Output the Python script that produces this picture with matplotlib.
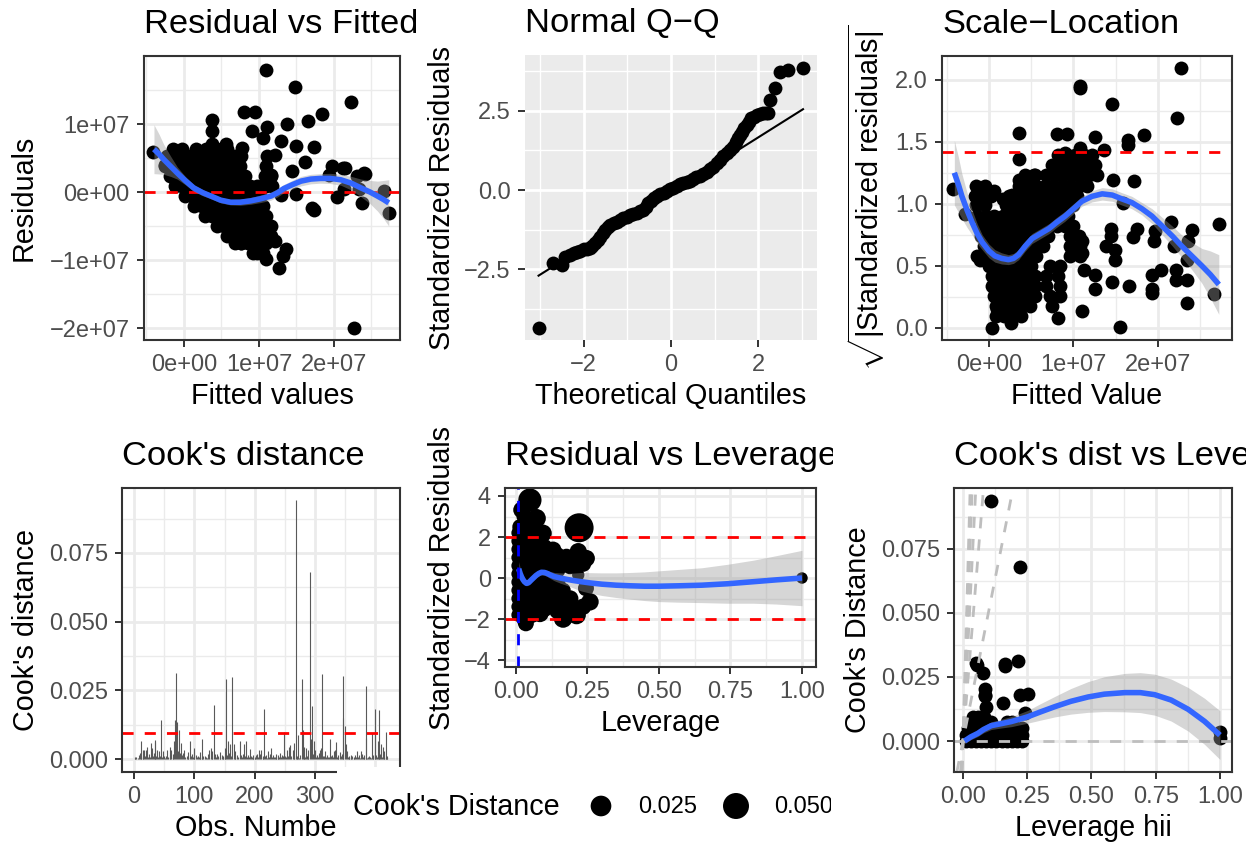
import numpy as np
import matplotlib
matplotlib.use("Agg")
import matplotlib.pyplot as plt
from matplotlib.ticker import FixedLocator, FixedFormatter, AutoMinorLocator
from matplotlib.transforms import Bbox

plt.rcParams['font.family'] = ['Liberation Sans', 'DejaVu Sans']
plt.rcParams['mathtext.fontset'] = 'custom'
plt.rcParams['mathtext.rm'] = 'Liberation Sans'
plt.rcParams['mathtext.it'] = 'Liberation Sans:italic'
plt.rcParams['mathtext.bf'] = 'Liberation Sans:bold'

# ---------------- DATA ----------------
# Panel 1: Residual vs Fitted (units of 1e7)
rvf_pts = [
    (1.09, 1.80), (1.48, 1.55), (2.23, 1.32), (1.84, 1.14), (1.65, 1.04), (1.37, 1.00), (0.80, 1.17),
    (0.95, 1.18), (0.38, 1.06), (0.38, 0.90), (0.91, 0.90), (1.11, 0.95), (1.05, 0.80), (1.49, 0.67),
    (1.74, 0.66), (1.62, 0.44), (1.29, 0.75), (1.22, 0.55), (1.11, 0.53), (0.78, 0.65), (0.56, 0.70),
    (0.38, 0.70), (-0.41, 0.59), (1.98, 0.38), (2.15, 0.36), (2.40, 0.28), (2.31, 0.24), (1.93, 0.25),
    (1.44, 0.31), (1.16, 0.25), (2.67, 0.01), (2.73, -0.31), (2.38, -0.16), (2.04, -0.08), (1.73, -0.26),
    (1.71, -0.24), (1.49, -0.03), (1.29, -0.05), (2.33, 0.04), (2.13, 0.04), (2.27, -2.00), (1.27, -1.11),
    (1.36, -0.84), (1.32, -0.94), (1.22, -0.72), (1.09, -0.99), (0.98, -0.89), (1.16, -0.50), (0.76, -0.75),
    (1.02, -0.66), (-0.25, 0.40), (-0.10, 0.15), (1.10, 0.15), (2.12, 0.35), (2.41, 0.27),
    (-0.15, 0.63), (-0.02, 0.63), (0.16, 0.63), (0.30, 0.63), (0.50, 0.63), (0.58, 0.63),
    (-0.22, 0.53), (-0.12, 0.53), (-0.02, 0.53), (0.08, 0.53), (0.18, 0.53), (0.28, 0.53), (0.38, 0.53),
    (0.48, 0.53), (0.58, 0.53), (0.68, 0.53), (0.76, 0.53),
    (-0.25, 0.38), (-0.15, 0.38), (-0.05, 0.38), (0.05, 0.38), (0.15, 0.38), (0.25, 0.38), (0.35, 0.38),
    (0.45, 0.38), (0.55, 0.38), (0.65, 0.38), (0.75, 0.38), (1.10, 0.38),
    (-0.18, 0.24), (-0.08, 0.24), (0.02, 0.24), (0.12, 0.24), (0.22, 0.24), (0.32, 0.24), (0.42, 0.24),
    (0.52, 0.24), (0.62, 0.24), (0.72, 0.24), (0.82, 0.24), (1.08, 0.24), (1.16, 0.24),
    (-0.12, 0.09), (-0.02, 0.09), (0.08, 0.09), (0.18, 0.09), (0.28, 0.09), (0.38, 0.09), (0.48, 0.09),
    (0.58, 0.09), (0.68, 0.09), (0.78, 0.09), (0.88, 0.09), (0.98, 0.09), (1.10, 0.09), (1.18, 0.09),
    (0.02, -0.06), (0.12, -0.06), (0.22, -0.06), (0.32, -0.06), (0.42, -0.06), (0.52, -0.06),
    (0.62, -0.06), (0.72, -0.06), (0.82, -0.06), (0.92, -0.06), (1.02, -0.06),
    (0.14, -0.21), (0.24, -0.21), (0.34, -0.21), (0.44, -0.21), (0.54, -0.21), (0.64, -0.21),
    (0.74, -0.21), (0.84, -0.21), (0.94, -0.21), (1.05, -0.21),
    (0.28, -0.35), (0.38, -0.35), (0.48, -0.35), (0.58, -0.35), (0.68, -0.35), (0.78, -0.35),
    (0.88, -0.35), (0.98, -0.35), (1.10, -0.35),
    (0.44, -0.50), (0.54, -0.50), (0.64, -0.50), (0.74, -0.50), (0.84, -0.50), (0.94, -0.50),
    (1.04, -0.50), (1.14, -0.50),
    (0.58, -0.65), (0.68, -0.65), (0.78, -0.65), (0.88, -0.65), (0.98, -0.65), (1.08, -0.65), (1.16, -0.65),
    (0.68, -0.75), (0.76, -0.75), (0.86, -0.75), (1.00, -0.75), (1.10, -0.75),
    (0.92, -0.89), (1.05, -0.89),
]
rvf_smooth_x = [-0.40, -0.33, -0.27, -0.18, -0.09, 0.02, 0.13, 0.25, 0.36, 0.49, 0.62, 0.75, 0.89, 1.02,
                1.16, 1.25, 1.33, 1.45, 1.56, 1.69, 1.82, 1.95, 2.09, 2.23, 2.36, 2.48, 2.58, 2.66, 2.73]
rvf_smooth_y = [0.63, 0.555, 0.48, 0.38, 0.28, 0.165, 0.06, -0.01, -0.06, -0.12, -0.15, -0.15, -0.13, -0.10,
                -0.06, -0.01, 0.05, 0.11, 0.16, 0.19, 0.20, 0.20, 0.18, 0.13, 0.06, 0.00, -0.06, -0.11, -0.16]
rvf_smooth_se = [0.36, 0.29, 0.22, 0.15, 0.09, 0.06, 0.05, 0.045, 0.04, 0.04, 0.04, 0.045, 0.05, 0.055,
                 0.06, 0.06, 0.06, 0.065, 0.07, 0.07, 0.07, 0.075, 0.08, 0.10, 0.13, 0.17, 0.22, 0.28, 0.34]

# Panel 2: Normal Q-Q
qq_pts = [
    (-3.03, -4.34), (-2.69, -2.31), (-2.50, -2.37), (-2.42, -2.10), (-2.31, -2.05), (-2.23, -2.00),
    (-2.16, -1.95), (-2.08, -1.91), (-2.00, -1.87), (-1.92, -1.86), (-1.85, -1.84), (-1.80, -1.76),
    (-1.74, -1.68), (-1.68, -1.58), (-1.62, -1.47), (-1.56, -1.36), (-1.51, -1.26), (-1.45, -1.18),
    (-1.39, -1.10), (-1.31, -1.05), (-1.24, -1.00), (-1.16, -0.94), (-1.09, -0.89), (-1.01, -0.84),
    (-0.94, -0.79), (-0.86, -0.75), (-0.78, -0.71), (-0.70, -0.67), (-0.63, -0.63), (-0.57, -0.52),
    (-0.52, -0.42), (-0.46, -0.34), (-0.40, -0.26), (-0.32, -0.20), (-0.25, -0.14), (-0.17, -0.08),
    (-0.10, -0.03), (-0.02, 0.02), (0.05, 0.07), (0.13, 0.13), (0.21, 0.18), (0.28, 0.22), (0.36, 0.26),
    (0.43, 0.30), (0.51, 0.35), (0.58, 0.40), (0.66, 0.45), (0.74, 0.51), (0.82, 0.58), (0.90, 0.66),
    (0.97, 0.74), (1.05, 0.84), (1.12, 0.95), (1.20, 1.06), (1.27, 1.16), (1.35, 1.27), (1.42, 1.37),
    (1.48, 1.50), (1.54, 1.63), (1.58, 1.74), (1.62, 1.84), (1.67, 1.95), (1.73, 2.05), (1.78, 2.16),
    (1.84, 2.26), (1.90, 2.32), (1.96, 2.37), (2.03, 2.41), (2.11, 2.44), (2.17, 2.44), (2.22, 2.44),
    (2.26, 2.84), (2.38, 3.21), (2.49, 3.73), (2.68, 3.79), (3.02, 3.84),
]
qq_line_x = [-3.03, 3.02]
qq_line_y = [-2.70, 2.55]

# Panel 3: Scale-Location (x in units of 1e7)
sl_pts = [
    (2.27, 2.09), (1.08, 1.95), (1.08, 1.93), (1.46, 1.80), (2.22, 1.69), (0.36, 1.57), (0.80, 1.56),
    (0.92, 1.56), (1.26, 1.54), (1.64, 1.51), (1.64, 1.47), (1.84, 1.55), (1.36, 1.43), (1.08, 1.45),
    (0.90, 1.41), (0.36, 1.36), (-0.43, 1.12), (1.47, 1.19), (1.72, 1.18), (2.72, 0.84), (2.40, 0.79),
    (2.15, 0.85), (1.97, 0.78), (1.75, 0.80), (1.71, 0.73), (1.44, 0.80), (1.44, 0.74), (1.59, 1.01),
    (1.38, 0.66), (1.49, 0.63), (1.49, 0.55), (1.95, 0.70), (2.19, 0.66), (2.36, 0.70), (2.34, 0.55),
    (2.21, 0.47), (2.03, 0.47), (1.93, 0.43), (2.21, 0.39), (2.34, 0.39), (1.93, 0.28), (1.93, 0.31),
    (2.34, 0.20), (2.66, 0.27), (1.66, 0.34), (1.46, 0.37), (1.26, 0.31), (1.26, 0.43), (1.12, 0.47),
    (1.10, 0.14), (1.55, 0.01), (1.10, 0.70), (0.98, 0.63), (1.10, 0.60), (0.82, 0.08), (0.04, 0.00),
    (0.26, 0.04), (0.09, 0.15), (-0.11, 0.55), (0.06, 1.10), (-0.09, 1.09), (0.27, 1.07), (0.17, 1.04),
    (0.36, 1.19), (0.53, 1.23), (0.77, 1.25), (-0.28, 0.92),
    (0.82, 1.39), (0.92, 1.39), (1.02, 1.39), (1.12, 1.39), (1.22, 1.39),
    (0.75, 1.31), (0.85, 1.31), (0.95, 1.31), (1.05, 1.31), (1.15, 1.31), (1.25, 1.31),
    (0.43, 1.23), (0.55, 1.23), (0.68, 1.23), (0.78, 1.23), (0.88, 1.23), (0.98, 1.23), (1.08, 1.23),
    (1.18, 1.23), (1.28, 1.23),
    (-0.15, 1.14), (-0.05, 1.14), (0.36, 1.14), (0.46, 1.14), (0.56, 1.14), (0.66, 1.14), (0.76, 1.14),
    (0.86, 1.14), (0.96, 1.14), (1.06, 1.14), (1.16, 1.14),
    (-0.16, 1.06), (-0.06, 1.06), (0.02, 1.06), (0.24, 1.06), (0.34, 1.06), (0.44, 1.06), (0.54, 1.06),
    (0.64, 1.06), (0.74, 1.06), (0.84, 1.06), (0.94, 1.06), (1.04, 1.06),
    (-0.15, 0.99), (-0.05, 0.99), (0.20, 0.99), (0.30, 0.99), (0.40, 0.99), (0.50, 0.99), (0.60, 0.99),
    (0.70, 0.99), (0.80, 0.99), (0.90, 0.99), (1.00, 0.99),
    (-0.14, 0.90), (-0.04, 0.90), (0.06, 0.90), (0.16, 0.90), (0.26, 0.90), (0.36, 0.90), (0.46, 0.90),
    (0.56, 0.90), (0.66, 0.90), (0.76, 0.90), (0.86, 0.90), (0.94, 0.90),
    (-0.10, 0.82), (0.00, 0.82), (0.10, 0.82), (0.20, 0.82), (0.30, 0.82), (0.40, 0.82), (0.50, 0.82),
    (0.60, 0.82), (0.70, 0.82), (0.80, 0.82), (0.90, 0.82), (1.00, 0.82),
    (-0.10, 0.74), (0.00, 0.74), (0.10, 0.74), (0.20, 0.74), (0.30, 0.74), (0.40, 0.74), (0.50, 0.74),
    (0.60, 0.74), (0.70, 0.74), (0.96, 0.74), (1.06, 0.74),
    (-0.06, 0.66), (0.04, 0.66), (0.14, 0.66), (0.24, 0.66), (0.34, 0.66), (0.44, 0.66), (0.54, 0.66),
    (0.64, 0.66), (0.96, 0.66), (1.08, 0.66),
    (-0.14, 0.58), (-0.04, 0.58), (0.06, 0.58), (0.16, 0.58), (0.26, 0.58), (0.36, 0.58), (0.46, 0.58),
    (0.56, 0.58), (0.96, 0.58), (1.08, 0.58),
    (0.00, 0.50), (0.10, 0.50), (0.20, 0.50), (0.30, 0.50), (0.40, 0.50), (0.50, 0.50), (0.72, 0.50),
    (0.84, 0.50),
    (0.04, 0.42), (0.14, 0.42), (0.24, 0.42), (0.34, 0.42), (0.44, 0.42), (0.54, 0.42), (0.68, 0.42),
    (0.82, 0.42),
    (0.04, 0.34), (0.14, 0.34), (0.24, 0.34), (0.34, 0.34), (0.44, 0.34), (0.54, 0.34), (0.68, 0.34),
    (0.84, 0.34),
    (0.06, 0.26), (0.16, 0.26), (0.26, 0.26), (0.36, 0.26), (0.46, 0.26), (0.54, 0.26), (0.72, 0.26),
    (0.84, 0.26),
    (0.08, 0.18), (0.18, 0.18), (0.28, 0.18), (0.38, 0.18), (0.48, 0.18), (0.74, 0.18),
    (0.08, 0.10), (0.18, 0.10), (0.28, 0.10), (0.38, 0.10),
]
sl_smooth_x = [-0.41, -0.36, -0.32, -0.26, -0.20, -0.14, -0.08, 0.00, 0.07, 0.15, 0.23, 0.29, 0.35, 0.43,
               0.51, 0.61, 0.71, 0.80, 0.90, 1.00, 1.10, 1.22, 1.34, 1.46, 1.57, 1.69, 1.81, 1.93, 2.05,
               2.17, 2.28, 2.40, 2.52, 2.62, 2.72]
sl_smooth_y = [1.25, 1.15, 1.06, 0.95, 0.85, 0.76, 0.69, 0.62, 0.58, 0.56, 0.55, 0.56, 0.59, 0.66,
               0.72, 0.76, 0.80, 0.85, 0.90, 0.96, 1.02, 1.06, 1.08, 1.07, 1.04, 1.01, 0.96, 0.90, 0.82,
               0.74, 0.66, 0.58, 0.50, 0.43, 0.35]
sl_smooth_se = [0.26, 0.22, 0.18, 0.14, 0.10, 0.08, 0.06, 0.055, 0.05, 0.045, 0.04, 0.04, 0.04, 0.04,
                0.04, 0.04, 0.04, 0.04, 0.04, 0.04, 0.04, 0.045, 0.05, 0.05, 0.05, 0.05, 0.05, 0.06, 0.07,
                0.08, 0.09, 0.11, 0.14, 0.19, 0.24]
sl_ref = 1.414

# Panel 4: Cook's distance bars (obs number, value x 1000)
cook_bars = [
    (1, 0.5), (2, 0.6), (4, 0.8), (6, 0.4), (8, 1.6), (10, 2.1), (11, 6.6), (12, 0.9), (14, 3.3), (15, 1.1),
    (17, 3.3), (18, 1.2), (20, 3.3), (22, 4.5), (23, 0.8), (25, 1.9), (26, 0.6), (28, 5.7), (30, 3.9),
    (31, 1.0), (33, 2.2), (34, 6.9), (35, 6.3), (36, 1.3), (38, 3.3), (39, 0.7), (41, 2.8), (43, 1.1),
    (45, 14.2), (46, 0.9), (48, 2.8), (50, 1.0), (52, 0.4), (53, 1.2), (55, 3.3), (57, 0.8), (59, 4.5),
    (60, 1.5), (62, 3.3), (64, 0.8), (65, 2.0), (67, 6.6), (68, 14.2), (70, 31.2), (72, 13.6), (73, 3.0),
    (75, 10.6), (76, 2.2), (78, 5.7), (79, 1.4), (81, 2.3), (83, 3.3), (85, 0.9), (87, 1.2), (89, 0.6),
    (90, 2.4), (92, 6.6), (94, 1.0), (96, 2.0), (97, 0.7), (99, 3.9), (100, 1.1), (102, 1.5), (104, 0.7),
    (106, 1.3), (107, 0.7), (109, 0.5), (110, 2.5), (112, 7.3), (113, 0.8), (115, 1.2), (117, 1.0),
    (119, 0.7), (121, 0.5), (123, 1.8), (125, 3.3), (127, 3.9), (129, 2.8), (130, 1.1), (132, 19.7),
    (134, 2.0), (136, 0.8), (138, 2.0), (140, 1.0), (142, 0.6), (143, 2.4), (145, 1.5), (147, 0.7),
    (148, 1.2), (150, 3.9), (151, 0.9), (153, 29.3), (154, 1.6), (156, 6.6), (157, 2.1), (159, 5.4),
    (161, 1.3), (163, 30.0), (165, 5.4), (167, 2.8), (168, 0.9), (170, 1.5), (172, 0.8), (175, 6.6),
    (177, 1.5), (179, 0.7), (180, 1.8), (182, 5.4), (184, 1.0), (186, 6.6), (188, 0.9), (189, 1.5),
    (191, 0.6), (192, 3.6), (194, 1.1), (195, 0.7), (197, 0.5), (198, 1.5), (200, 0.6), (201, 0.4),
    (202, 1.6), (204, 2.0), (206, 0.8), (207, 3.3), (209, 2.0), (211, 3.3), (213, 1.0), (214, 0.6),
    (216, 18.2), (217, 1.3), (219, 1.5), (220, 0.5), (222, 2.8), (224, 0.9), (225, 1.7), (227, 3.9),
    (228, 0.8), (230, 1.5), (232, 0.6), (233, 0.7), (235, 1.9), (236, 1.0), (238, 0.5), (239, 1.5),
    (241, 0.8), (242, 2.3), (244, 0.6), (245, 1.5), (247, 1.0), (249, 9.9), (251, 1.2), (252, 0.6),
    (254, 3.3), (255, 1.0), (257, 4.5), (259, 5.2), (261, 1.2), (263, 3.3), (265, 5.8), (266, 1.1),
    (268, 94.3), (270, 1.0), (271, 0.6), (272, 8.7), (274, 0.4), (276, 1.4), (278, 29.0), (280, 10.4),
    (281, 1.2), (282, 4.5), (284, 0.8), (285, 3.9), (287, 1.0), (288, 3.3), (289, 0.7), (291, 67.9),
    (293, 7.3), (295, 19.3), (296, 2.0), (298, 6.6), (300, 3.3), (301, 0.9), (303, 1.5), (305, 0.6),
    (306, 2.2), (308, 3.3), (310, 3.9), (312, 31.0), (313, 1.1), (315, 1.0), (317, 2.8), (318, 0.7),
    (320, 1.5), (322, 0.9), (323, 0.6), (325, 7.3), (326, 1.0), (328, 1.5), (330, 0.6), (331, 2.8),
    (333, 3.3), (335, 6.1), (336, 0.8), (338, 1.5), (339, 0.6), (341, 2.7), (343, 1.0), (344, 2.0),
    (346, 30.2), (347, 14.8), (349, 12.0), (351, 5.4), (353, 2.8), (354, 0.7), (356, 1.0), (357, 0.5),
    (359, 1.5), (360, 0.6), (362, 1.2), (364, 0.5), (365, 0.7), (367, 1.5), (368, 0.6), (370, 3.0),
    (371, 0.9), (373, 1.5), (374, 0.5), (376, 2.8), (378, 1.9), (379, 0.6), (381, 0.9), (382, 1.4),
    (384, 7.5), (385, 26.6), (387, 0.5), (388, 0.7), (390, 1.0), (391, 0.7), (393, 0.5), (395, 9.5),
    (396, 0.8), (397, 1.5), (399, 0.6), (400, 18.3), (402, 1.5), (403, 0.7), (404, 6.6), (406, 18.0),
    (407, 0.8), (408, 2.0), (410, 5.4), (411, 0.9), (412, 4.5), (414, 2.8), (415, 0.6), (417, 9.7),
    (418, 0.5), (419, 1.2), (420, 0.4),
]
cook_threshold = 0.0095

# Panel 5: Residual vs Leverage (leverage, std residual, cook's distance)
rvl_pts = [
    (0.049, 3.80, 0.036), (0.221, 2.45, 0.068), (0.020, 3.32, 0.012), (0.017, 2.42, 0.010),
    (0.072, 2.91, 0.018), (0.084, 2.10, 0.020), (0.066, 2.83, 0.015), (0.078, 2.18, 0.016),
    (0.095, 2.18, 0.014), (0.090, 1.12, 0.012), (0.130, 1.37, 0.012), (0.177, 1.04, 0.010),
    (0.218, 1.28, 0.014), (0.247, 0.96, 0.012), (0.213, 0.47, 0.005), (0.218, 0.15, 0.003),
    (0.259, -1.16, 0.014), (0.245, -0.50, 0.010), (0.212, -1.80, 0.018), (0.165, -1.97, 0.018),
    (0.160, -1.42, 0.012), (0.130, -0.26, 0.006), (0.136, 0.88, 0.010), (0.084, -1.72, 0.015),
    (0.037, -1.89, 0.010), (0.035, -2.21, 0.010), (0.014, -1.40, 0.005), (0.014, -0.26, 0.003),
    (0.014, 0.72, 0.004), (0.014, 1.53, 0.006), (0.014, 2.50, 0.008), (0.049, 1.20, 0.006),
    (0.060, 0.23, 0.004), (0.072, -0.75, 0.006), (0.107, -0.91, 0.008), (0.125, 0.55, 0.006),
    (0.154, 0.72, 0.008), (0.177, 0.88, 0.010), (0.189, 0.55, 0.008), (0.166, -0.59, 0.007),
    (1.000, 0.00, 0.002),
    (0.008, -1.8, 0.005), (0.008, -1.4, 0.005), (0.008, -1.0, 0.005), (0.008, -0.6, 0.005),
    (0.008, -0.2, 0.005), (0.008, 0.2, 0.005), (0.008, 0.6, 0.005), (0.008, 1.0, 0.005),
    (0.008, 1.4, 0.005), (0.008, 1.8, 0.005), (0.008, 2.2, 0.005),
    (0.030, -2.0, 0.010), (0.030, -1.5, 0.010), (0.030, -1.0, 0.010), (0.030, -0.5, 0.010),
    (0.030, 0.0, 0.010), (0.030, 0.5, 0.010), (0.030, 1.0, 0.010), (0.030, 1.5, 0.010),
    (0.030, 2.0, 0.010), (0.030, 2.6, 0.010), (0.030, 3.0, 0.010),
    (0.055, -1.8, 0.011), (0.055, -1.2, 0.011), (0.055, -0.6, 0.011), (0.055, 0.0, 0.011),
    (0.055, 0.6, 0.011), (0.055, 1.2, 0.011), (0.055, 1.8, 0.011), (0.055, 2.4, 0.011),
    (0.080, -1.4, 0.011), (0.080, -0.8, 0.011), (0.080, -0.2, 0.011), (0.080, 0.4, 0.011),
    (0.080, 1.0, 0.011), (0.080, 1.6, 0.011),
    (0.100, -1.5, 0.011), (0.100, -0.5, 0.011), (0.100, 0.5, 0.011), (0.100, 1.5, 0.011),
    (0.115, -1.2, 0.011), (0.115, 0.2, 0.011), (0.115, 1.0, 0.011),
    (0.145, -1.6, 0.011), (0.145, -0.9, 0.011), (0.145, -0.3, 0.011), (0.145, 0.4, 0.011),
    (0.145, 1.1, 0.011),
    (0.190, -1.5, 0.011), (0.190, -1.0, 0.011), (0.190, 0.9, 0.011),
    (0.235, -1.4, 0.011), (0.235, 0.7, 0.011), (0.235, 1.0, 0.011),
]
rvl_smooth_x = [0.010, 0.015, 0.020, 0.025, 0.030, 0.037, 0.045, 0.055, 0.07, 0.08, 0.089, 0.10, 0.11, 0.12,
                0.134, 0.155, 0.18, 0.20, 0.228, 0.26, 0.30, 0.35, 0.40, 0.45, 0.50, 0.57, 0.65, 0.74,
                0.83, 0.91, 1.0]
rvl_smooth_y = [0.45, 0.22, 0.05, -0.08, -0.18, -0.26, -0.22, -0.08, 0.12, 0.22, 0.28, 0.27, 0.22, 0.15,
                0.07, 0.00, -0.07, -0.12, -0.18, -0.24, -0.30, -0.35, -0.38, -0.40, -0.40, -0.38, -0.35,
                -0.28, -0.18, -0.09, 0.0]
rvl_smooth_se = [0.35, 0.27, 0.20, 0.17, 0.15, 0.12, 0.12, 0.12, 0.12, 0.12, 0.13, 0.14, 0.15, 0.17,
                 0.20, 0.25, 0.30, 0.36, 0.45, 0.50, 0.55, 0.60, 0.65, 0.70, 0.75, 0.80, 0.85, 0.95,
                 1.05, 1.18, 1.35]
rvl_lev_cut = 0.008
cook_legend_breaks = [0.025, 0.050]
cook_legend_labels = ["0.025", "0.050"]

# Panel 6: Cook's dist vs leverage
cvl_pts = [
    (0.108, 0.0938), (0.221, 0.068), (0.049, 0.0303), (0.055, 0.0295), (0.078, 0.0264), (0.162, 0.0294),
    (0.165, 0.0300), (0.214, 0.0314), (0.084, 0.0202), (0.084, 0.0180), (0.086, 0.0177), (0.221, 0.0180),
    (0.253, 0.0182), (0.156, 0.0150), (0.091, 0.0134), (1.0, 0.0036), (1.0, 0.0010), (0.241, 0.0108),
    (0.01, 0.0), (0.03, 0.0), (0.05, 0.0), (0.07, 0.0), (0.09, 0.0), (0.11, 0.0), (0.13, 0.0),
    (0.15, 0.0), (0.17, 0.0), (0.19, 0.0), (0.21, 0.0), (0.23, 0.0),
    (0.01, 0.0025), (0.03, 0.0025), (0.05, 0.0025), (0.07, 0.0025), (0.09, 0.0025), (0.11, 0.0025),
    (0.13, 0.0025), (0.15, 0.0025), (0.17, 0.0025), (0.19, 0.0025), (0.21, 0.0025), (0.23, 0.0025),
    (0.02, 0.005), (0.04, 0.005), (0.06, 0.005), (0.08, 0.005), (0.10, 0.005), (0.12, 0.005),
    (0.16, 0.005), (0.20, 0.005), (0.23, 0.005),
    (0.03, 0.0075), (0.05, 0.0075), (0.07, 0.0075), (0.09, 0.0075), (0.11, 0.0075), (0.17, 0.0075),
    (0.19, 0.0075),
    (0.04, 0.0095), (0.06, 0.0095), (0.08, 0.0095),
]
cvl_smooth_x = [0.006, 0.03, 0.058, 0.08, 0.11, 0.15, 0.188, 0.22, 0.253, 0.30, 0.357, 0.42, 0.487, 0.55,
                0.63, 0.69, 0.746, 0.81, 0.876, 0.94, 1.0]
cvl_smooth_y = [0.0, 0.0016, 0.0030, 0.0045, 0.0060, 0.0068, 0.0076, 0.0085, 0.0095, 0.0113, 0.0134,
                0.0155, 0.0172, 0.0183, 0.0189, 0.0189, 0.0181, 0.0160, 0.0124, 0.0077, 0.0023]
cvl_smooth_se = [0.0010, 0.0011, 0.0012, 0.0013, 0.0015, 0.0017, 0.0020, 0.0022, 0.0025, 0.0032, 0.0040,
                 0.0050, 0.0060, 0.0068, 0.0075, 0.0078, 0.0080, 0.0082, 0.0085, 0.0090, 0.0095]
contour_top_lev = [0.028, 0.036, 0.05, 0.08, 0.195]
contour_top_cook = 0.0988

# ---------------- FIGURE ----------------
W, H = 1258, 843
fig = plt.figure(figsize=(W / 100, H / 100), dpi=100)
fig.patch.set_facecolor('white')

TITLE, LAB, TICK = 24.8, 20.7, 17.0
BLUE = '#3366FF'
RED = '#FF0000'
PT = 100  # point marker area


def add_ax(l, t, r, b):
    return fig.add_axes([l / W, 1 - b / H, (r - l) / W, (b - t) / H])


def style(ax, xt, xl, yt, yl, xlim, ylim, grey=False):
    ax.set_xlim(*xlim)
    ax.set_ylim(*ylim)
    ax.xaxis.set_major_locator(FixedLocator(xt))
    ax.xaxis.set_major_formatter(FixedFormatter(xl))
    ax.yaxis.set_major_locator(FixedLocator(yt))
    ax.yaxis.set_major_formatter(FixedFormatter(yl))
    ax.xaxis.set_minor_locator(AutoMinorLocator(2))
    ax.yaxis.set_minor_locator(AutoMinorLocator(2))
    ax.set_facecolor('#EBEBEB' if grey else 'white')
    for s in ax.spines.values():
        s.set_visible(not grey)
        s.set_color('#333333')
        s.set_linewidth(1.5)
        s.set_zorder(10)
    gc = 'white' if grey else '#EBEBEB'
    ax.grid(True, which='major', color=gc, lw=2.0)
    ax.grid(True, which='minor', color=gc, lw=1.0)
    ax.set_axisbelow(True)
    ax.tick_params(which='major', length=5.2, width=1.4, color='#333333',
                   labelcolor='#4D4D4D', labelsize=TICK, pad=5)
    ax.tick_params(which='minor', length=0)


def title(ax, s, clip_x=None):
    t = ax.set_title(s, loc='left', fontsize=TITLE, pad=16.5, color='black')
    if clip_x is not None:
        t.set_clip_box(Bbox([[0, 0], [clip_x, H]]))
        t.set_clip_on(True)


def labels(ax, xlab, ylab, ypad=6):
    ax.set_xlabel(xlab, fontsize=LAB, labelpad=4, color='black')
    ax.set_ylabel(ylab, fontsize=LAB, labelpad=ypad, color='black')


def smooth(ax, x, y, se):
    x = np.asarray(x); y = np.asarray(y); se = np.asarray(se)
    ax.fill_between(x, y - se, y + se, color='#999999', alpha=0.4, lw=0, zorder=4)
    ax.plot(x, y, color=BLUE, lw=4.0, zorder=5, solid_capstyle='butt', solid_joinstyle='round')


def dashed(ax, y=None, x=None, color=RED):
    if y is not None:
        ax.axhline(y, color=color, lw=2.0, dashes=(4, 4), zorder=3)
    else:
        ax.axvline(x, color=color, lw=2.0, dashes=(4, 4), zorder=3)


MINUS = '\u2212'

# Panel 1
ax1 = add_ax(144, 56, 400, 340)
p = np.array(rvf_pts)
ax1.scatter(p[:, 0], p[:, 1], s=PT, color='black', lw=0, zorder=2)
dashed(ax1, y=0)
smooth(ax1, rvf_smooth_x, rvf_smooth_y, rvf_smooth_se)
style(ax1, [0, 1, 2], ['0e+00', '1e+07', '2e+07'], [-2, -1, 0, 1],
      [MINUS + '2e+07', MINUS + '1e+07', '0e+00', '1e+07'], (-0.533, 2.88), (-2.176, 2.0))
title(ax1, 'Residual vs Fitted', clip_x=416)
labels(ax1, 'Fitted values', 'Residuals', ypad=9)

# Panel 2
ax2 = add_ax(525, 55, 817, 340)
q = np.array(qq_pts)
ax2.scatter(q[:, 0], q[:, 1], s=PT, color='black', lw=0, zorder=2)
ax2.plot(qq_line_x, qq_line_y, color='black', lw=1.5, zorder=3)
style(ax2, [-2, 0, 2], [MINUS + '2', '0', '2'], [-2.5, 0, 2.5], [MINUS + '2.5', '0.0', '2.5'],
      (-3.34, 3.34), (-4.73, 4.26), grey=True)
title(ax2, 'Normal Q\u2212Q')
labels(ax2, 'Theoretical Quantiles', 'Standardized Residuals')

# Panel 3
ax3 = add_ax(942, 56, 1232, 340)
p = np.array(sl_pts)
ax3.scatter(p[:, 0], p[:, 1], s=PT, color='black', lw=0, zorder=2)
dashed(ax3, y=sl_ref)
smooth(ax3, sl_smooth_x, sl_smooth_y, sl_smooth_se)
style(ax3, [0, 1, 2], ['0e+00', '1e+07', '2e+07'], [0, 0.5, 1.0, 1.5, 2.0],
      ['0.0', '0.5', '1.0', '1.5', '2.0'], (-0.556, 2.876), (-0.097, 2.19))
title(ax3, 'Scale\u2212Location')
labels(ax3, 'Fitted Value', r'$\sqrt{|\mathrm{Standardized\ residuals}|}$')

# Panel 4
ax4 = add_ax(122, 488, 400, 772)
cb = np.array(cook_bars)
ax4.vlines(cb[:, 0], 0, cb[:, 1] / 1000.0, color='#595959', lw=0.8, zorder=2)
dashed(ax4, y=cook_threshold)
style(ax4, [0, 100, 200, 300, 400], ['0', '100', '200', '300', '400'], [0, 0.025, 0.05, 0.075],
      ['0.000', '0.025', '0.050', '0.075'], (-20, 441), (-0.0047, 0.0986))
title(ax4, "Cook's distance")
labels(ax4, 'Obs. Number', "Cook's distance")

COOK_MAX = cb[:, 1].max() / 1000.0


def cook_area(c):
    d_px = 7.85 + 24.9 * np.sqrt(np.asarray(c) / COOK_MAX)
    return (d_px * 0.72) ** 2


# Panel 5
ax5 = add_ax(505, 488, 816, 667)
r = np.array(rvl_pts)
ax5.scatter(r[:, 0], r[:, 1], s=cook_area(r[:, 2]), color='black', lw=0, zorder=2)
dashed(ax5, y=2)
dashed(ax5, y=-2)
smooth(ax5, rvl_smooth_x, rvl_smooth_y, rvl_smooth_se)
ax5.axvline(rvl_lev_cut, color='#0000FF', lw=2.0, dashes=(4, 4), zorder=6)
style(ax5, [0, 0.25, 0.5, 0.75, 1.0], ['0.00', '0.25', '0.50', '0.75', '1.00'], [-4, -2, 0, 2, 4],
      [MINUS + '4', MINUS + '2', '0', '2', '4'], (-0.038, 1.049), (-4.34, 4.39))
title(ax5, 'Residual vs Leverage', clip_x=833)
labels(ax5, 'Leverage', 'Standardized Residuals')

# Panel 6
ax6 = add_ax(954, 488, 1232, 772)
c6 = np.array(cvl_pts)
ax6.scatter(c6[:, 0], c6[:, 1], s=PT, color='black', lw=0, zorder=2)
for lt in contour_top_lev:
    ax6.axline((0, 0), (lt, contour_top_cook), color='#BEBEBE', lw=2.0, dashes=(4, 4), zorder=3)
ax6.axhline(0, color='#BEBEBE', lw=2.0, dashes=(4, 4), zorder=3)
smooth(ax6, cvl_smooth_x, cvl_smooth_y, cvl_smooth_se)
style(ax6, [0, 0.25, 0.5, 0.75, 1.0], ['0.00', '0.25', '0.50', '0.75', '1.00'], [0, 0.025, 0.05, 0.075],
      ['0.000', '0.025', '0.050', '0.075'], (-0.035, 1.047), (-0.0121, 0.0988))
title(ax6, "Cook's dist vs Leverage hii/(1 - hii)", clip_x=1246)
labels(ax6, 'Leverage hii', "Cook's Distance")

# Legend (drawn in a pixel-scaled white box)
leg = fig.add_axes([337 / W, 0, (831 - 337) / W, (843 - 767) / H])
leg.set_zorder(20)
leg.set_xlim(337, 831)
leg.set_ylim(843, 767)
leg.set_xticks([]); leg.set_yticks([])
for s in leg.spines.values():
    s.set_visible(False)
leg.set_facecolor('white')
leg.text(353, 815, "Cook's Distance", fontsize=LAB, ha='left', va='baseline', color='black')
key_x = [601, 736]
lab_x = [638, 774]
leg.scatter(key_x, [806, 806], s=cook_area(cook_legend_breaks), color='black', lw=0, clip_on=False)
for lx, lab in zip(lab_x, cook_legend_labels):
    leg.text(lx, 813, lab, fontsize=TICK, ha='left', va='baseline', color='black', clip_on=True)

fig.savefig('out.png', dpi=100)
